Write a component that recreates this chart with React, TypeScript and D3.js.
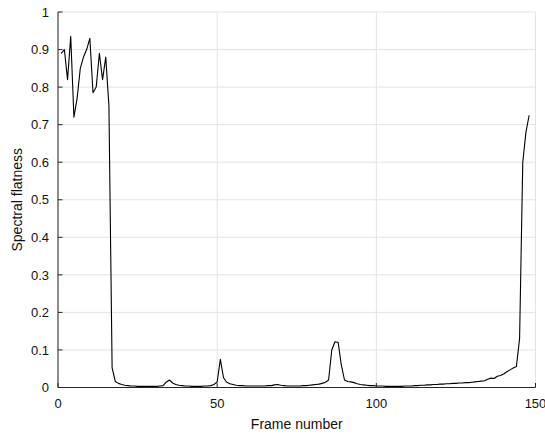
import React from "react";
import * as d3 from "d3";

const flatness: number[] = [
  0.89, 0.9, 0.82, 0.935, 0.72, 0.77, 0.85, 0.88, 0.9, 0.93,
  0.785, 0.8, 0.89, 0.82, 0.88, 0.75, 0.052, 0.016, 0.011, 0.008,
  0.006, 0.005, 0.004, 0.004, 0.003, 0.003, 0.003, 0.003, 0.003, 0.003,
  0.003, 0.004, 0.005, 0.014, 0.02, 0.012, 0.008, 0.006, 0.005, 0.004,
  0.004, 0.003, 0.003, 0.003, 0.003, 0.004, 0.004, 0.005, 0.008, 0.015,
  0.075, 0.026, 0.014, 0.01, 0.008, 0.006, 0.005, 0.005, 0.004, 0.004,
  0.004, 0.004, 0.004, 0.004, 0.004, 0.005, 0.005, 0.007, 0.008, 0.006,
  0.005, 0.004, 0.004, 0.004, 0.004, 0.004, 0.005, 0.005, 0.006, 0.007,
  0.008, 0.009, 0.011, 0.014, 0.02, 0.1, 0.122, 0.12, 0.06, 0.02,
  0.016, 0.015, 0.013, 0.01, 0.008, 0.007, 0.006, 0.005, 0.005, 0.004,
  0.004, 0.004, 0.003, 0.003, 0.003, 0.003, 0.003, 0.003, 0.004, 0.004,
  0.004, 0.005, 0.005, 0.006, 0.006, 0.007, 0.007, 0.008, 0.008, 0.009,
  0.009, 0.01, 0.01, 0.011, 0.011, 0.012, 0.012, 0.013, 0.013, 0.014,
  0.015, 0.016, 0.017, 0.018, 0.022, 0.025, 0.024, 0.03, 0.032, 0.036,
  0.042, 0.047, 0.052, 0.056, 0.13, 0.6, 0.68, 0.725,
];

const xTicks: number[] = [0, 50, 100, 150];
const yTicks: number[] = [0, 0.1, 0.2, 0.3, 0.4, 0.5, 0.6, 0.7, 0.8, 0.9, 1];
const yTickLabels: string[] = ["0", "0.1", "0.2", "0.3", "0.4", "0.5", "0.6", "0.7", "0.8", "0.9", "1"];
const xLabel = "Frame number";
const yLabel = "Spectral flatness";

const W = 545;
const H = 437;
const left = 58;
const right = 535.5;
const top = 12;
const bottom = 387.5;

export default function App() {
  const x = d3.scaleLinear().domain([0, 150]).range([left, right]);
  const y = d3.scaleLinear().domain([0, 1]).range([bottom, top]);
  const line = d3
    .line<number>()
    .x((_, i) => x(i + 1))
    .y((d) => y(d));
  const font = "'Liberation Sans', Arial, Helvetica, sans-serif";
  const axisColor = "#262626";
  const gridColor = "#e3e3e3";
  return (
    <svg
      width={W}
      height={H}
      style={{ position: "absolute", left: 0, top: 0, background: "#fff" }}
      fontFamily={font}
    >
      <rect x={0} y={0} width={W} height={H} fill="#fff" />
      {yTicks.map((t) => (
        <line key={"gy" + t} x1={left} x2={right} y1={y(t)} y2={y(t)} stroke={gridColor} strokeWidth={1} />
      ))}
      {xTicks.map((t) => (
        <line key={"gx" + t} x1={x(t)} x2={x(t)} y1={top} y2={bottom} stroke={gridColor} strokeWidth={1} />
      ))}
      <path d={line(flatness) || ""} fill="none" stroke="#000" strokeWidth={1.1} strokeLinejoin="round" />
      <line x1={left} x2={left} y1={top} y2={bottom} stroke={axisColor} strokeWidth={1} />
      <line x1={left} x2={right} y1={bottom} y2={bottom} stroke={axisColor} strokeWidth={1} />
      {yTicks.map((t, i) => (
        <g key={"ty" + t}>
          <line x1={left} x2={left + 4.5} y1={y(t)} y2={y(t)} stroke={axisColor} strokeWidth={1} />
          <text x={left - 9} y={y(t)} dy="0.36em" textAnchor="end" fontSize={13} fill="#111">
            {yTickLabels[i]}
          </text>
        </g>
      ))}
      {xTicks.map((t) => (
        <g key={"tx" + t}>
          <line x1={x(t)} x2={x(t)} y1={bottom} y2={bottom - 4.5} stroke={axisColor} strokeWidth={1} />
          <text x={x(t)} y={bottom + 20.5} textAnchor="middle" fontSize={13} fill="#111">
            {t}
          </text>
        </g>
      ))}
      <text x={(left + right) / 2} y={429} textAnchor="middle" fontSize={14} fill="#111">
        {xLabel}
      </text>
      <text
        transform={`translate(22, ${(top + bottom) / 2}) rotate(-90)`}
        textAnchor="middle"
        fontSize={14}
        fill="#111"
      >
        {yLabel}
      </text>
    </svg>
  );
}
